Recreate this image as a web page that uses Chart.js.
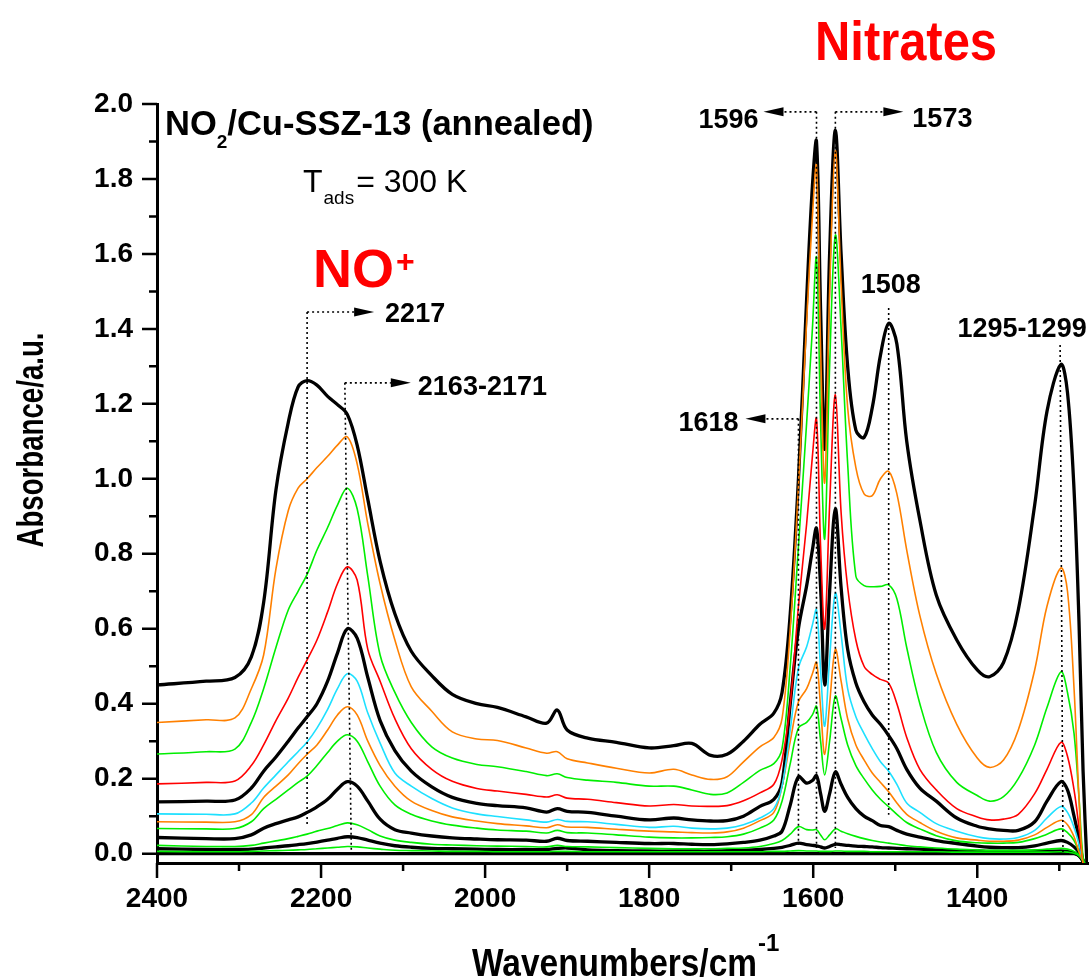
<!DOCTYPE html>
<html>
<head>
<meta charset="utf-8">
<script src="https://cdn.jsdelivr.net/npm/chart.js@4.4.1/dist/chart.umd.min.js"></script>
<style>
  html, body { margin: 0; padding: 0; background: #fff; }
</style>
</head>
<body>
<canvas id="graficoNO2" width="1089" height="979"></canvas>
<script>
// eixo x comum (cm-1)
var wavenumbers = [2400, 2340, 2305, 2285, 2270, 2255, 2240, 2228, 2217, 2205, 2192, 2180, 2168, 2156, 2143, 2128, 2110, 2090, 2065, 2040,
  2010, 1985, 1950, 1925, 1912, 1900, 1875, 1840, 1800, 1770, 1748, 1725, 1705, 1685, 1665, 1648, 1638, 1628, 1618, 1608,
  1601, 1596, 1591, 1586, 1580, 1573, 1566, 1558, 1548, 1538, 1528, 1518, 1508, 1498, 1486, 1470, 1450, 1425, 1400, 1385,
  1368, 1350, 1330, 1315, 1298, 1290, 1282, 1276, 1271, 1266];

// espectros, do mais alto para o mais baixo
var absBlack1 = [0.450, 0.460, 0.470, 0.525, 0.670, 0.970, 1.150, 1.245, 1.262, 1.250, 1.220, 1.198, 1.172, 1.090, 0.945, 0.780, 0.640, 0.540, 0.475, 0.425,
  0.400, 0.390, 0.365, 0.348, 0.383, 0.330, 0.308, 0.297, 0.282, 0.288, 0.294, 0.262, 0.265, 0.300, 0.345, 0.375, 0.430, 0.640, 1.000, 1.480,
  1.780, 1.900, 1.450, 1.080, 1.600, 1.930, 1.600, 1.300, 1.130, 1.110, 1.190, 1.330, 1.415, 1.360, 1.100, 0.890, 0.690, 0.570, 0.490, 0.472,
  0.510, 0.650, 0.930, 1.180, 1.305, 1.230, 0.970, 0.620, 0.220, -0.040];
var absOrange1 = [0.350, 0.357, 0.362, 0.440, 0.530, 0.760, 0.915, 0.975, 1.000, 1.030, 1.060, 1.090, 1.112, 1.040, 0.880, 0.720, 0.570, 0.445, 0.380, 0.325,
  0.306, 0.302, 0.282, 0.268, 0.272, 0.253, 0.242, 0.228, 0.215, 0.225, 0.210, 0.198, 0.205, 0.245, 0.285, 0.310, 0.360, 0.600, 0.980, 1.420,
  1.700, 1.835, 1.350, 0.990, 1.500, 1.875, 1.520, 1.190, 1.030, 0.960, 0.955, 1.000, 1.020, 0.960, 0.810, 0.635, 0.480, 0.345, 0.255, 0.230,
  0.250, 0.330, 0.490, 0.660, 0.762, 0.700, 0.440, 0.150, -0.030, -0.040];
var absGreen1 = [0.266, 0.272, 0.279, 0.350, 0.440, 0.550, 0.650, 0.700, 0.745, 0.810, 0.870, 0.930, 0.975, 0.920, 0.740, 0.530, 0.430, 0.350, 0.285, 0.255,
  0.238, 0.232, 0.219, 0.208, 0.213, 0.203, 0.196, 0.190, 0.180, 0.180, 0.170, 0.158, 0.162, 0.190, 0.222, 0.240, 0.280, 0.500, 0.820, 1.150,
  1.400, 1.590, 1.150, 0.840, 1.300, 1.650, 1.400, 1.040, 0.740, 0.715, 0.712, 0.713, 0.717, 0.680, 0.550, 0.400, 0.270, 0.190, 0.155, 0.140,
  0.152, 0.200, 0.290, 0.390, 0.485, 0.430, 0.320, 0.150, -0.010, -0.040];
var absRed = [0.186, 0.190, 0.194, 0.235, 0.290, 0.355, 0.415, 0.470, 0.517, 0.570, 0.645, 0.720, 0.765, 0.730, 0.545, 0.460, 0.360, 0.280, 0.225, 0.193,
  0.174, 0.167, 0.158, 0.151, 0.157, 0.148, 0.145, 0.136, 0.127, 0.131, 0.127, 0.126, 0.128, 0.141, 0.162, 0.185, 0.250, 0.400, 0.660, 0.880,
  1.060, 1.160, 0.820, 0.600, 0.930, 1.224, 0.910, 0.710, 0.570, 0.500, 0.478, 0.465, 0.455, 0.400, 0.310, 0.225, 0.170, 0.120, 0.098, 0.090,
  0.092, 0.105, 0.160, 0.225, 0.297, 0.260, 0.170, 0.070, -0.020, -0.040];
var absBlack2 = [0.138, 0.140, 0.143, 0.175, 0.220, 0.258, 0.300, 0.335, 0.365, 0.400, 0.460, 0.535, 0.600, 0.575, 0.470, 0.355, 0.275, 0.220, 0.178, 0.150,
  0.134, 0.128, 0.122, 0.111, 0.120, 0.113, 0.110, 0.100, 0.090, 0.095, 0.090, 0.087, 0.088, 0.100, 0.126, 0.145, 0.190, 0.400, 0.600, 0.715,
  0.810, 0.868, 0.710, 0.450, 0.700, 0.920, 0.710, 0.545, 0.455, 0.405, 0.370, 0.345, 0.315, 0.280, 0.225, 0.175, 0.140, 0.095, 0.073, 0.066,
  0.062, 0.062, 0.085, 0.140, 0.192, 0.170, 0.100, 0.040, -0.020, -0.040];
var absCyan = [0.106, 0.105, 0.106, 0.135, 0.175, 0.210, 0.245, 0.272, 0.298, 0.335, 0.385, 0.440, 0.480, 0.460, 0.375, 0.295, 0.215, 0.180, 0.147, 0.122,
  0.106, 0.099, 0.090, 0.084, 0.091, 0.086, 0.085, 0.078, 0.070, 0.073, 0.068, 0.066, 0.068, 0.077, 0.095, 0.120, 0.180, 0.330, 0.495, 0.552,
  0.610, 0.651, 0.490, 0.340, 0.520, 0.695, 0.585, 0.440, 0.365, 0.320, 0.280, 0.245, 0.220, 0.185, 0.135, 0.110, 0.080, 0.060, 0.045, 0.040,
  0.039, 0.043, 0.062, 0.095, 0.126, 0.110, 0.070, 0.025, -0.020, -0.040];
var absOrange2 = [0.085, 0.084, 0.085, 0.104, 0.150, 0.180, 0.210, 0.240, 0.265, 0.290, 0.330, 0.370, 0.392, 0.370, 0.300, 0.235, 0.180, 0.140, 0.115, 0.098,
  0.087, 0.080, 0.074, 0.069, 0.077, 0.071, 0.070, 0.065, 0.060, 0.058, 0.056, 0.055, 0.058, 0.068, 0.088, 0.110, 0.180, 0.300, 0.405, 0.440,
  0.480, 0.510, 0.390, 0.265, 0.400, 0.545, 0.460, 0.360, 0.290, 0.250, 0.215, 0.190, 0.165, 0.135, 0.105, 0.083, 0.060, 0.042, 0.036, 0.033,
  0.033, 0.036, 0.050, 0.070, 0.089, 0.077, 0.045, 0.005, -0.020, -0.040];
var absGreen2 = [0.067, 0.066, 0.067, 0.085, 0.120, 0.145, 0.170, 0.190, 0.207, 0.235, 0.270, 0.300, 0.317, 0.300, 0.245, 0.180, 0.130, 0.105, 0.087, 0.076,
  0.068, 0.063, 0.060, 0.055, 0.062, 0.056, 0.055, 0.050, 0.044, 0.042, 0.042, 0.043, 0.045, 0.052, 0.068, 0.090, 0.140, 0.240, 0.335, 0.350,
  0.370, 0.393, 0.300, 0.210, 0.300, 0.420, 0.360, 0.290, 0.235, 0.200, 0.170, 0.145, 0.125, 0.105, 0.083, 0.066, 0.048, 0.034, 0.029, 0.028,
  0.028, 0.030, 0.040, 0.052, 0.066, 0.056, 0.035, 0.005, -0.020, -0.040];
var absBlack3 = [0.043, 0.040, 0.040, 0.050, 0.068, 0.080, 0.090, 0.098, 0.110, 0.125, 0.145, 0.172, 0.192, 0.180, 0.140, 0.092, 0.064, 0.055, 0.047, 0.042,
  0.039, 0.037, 0.036, 0.033, 0.041, 0.035, 0.033, 0.030, 0.027, 0.027, 0.025, 0.024, 0.026, 0.030, 0.036, 0.047, 0.060, 0.130, 0.205, 0.188,
  0.195, 0.208, 0.160, 0.113, 0.160, 0.218, 0.185, 0.150, 0.120, 0.100, 0.088, 0.075, 0.072, 0.062, 0.052, 0.044, 0.035, 0.027, 0.020, 0.017,
  0.016, 0.016, 0.021, 0.028, 0.035, 0.030, 0.018, 0.003, -0.018, -0.040];
var absGreen3 = [0.022, 0.019, 0.019, 0.022, 0.028, 0.034, 0.040, 0.046, 0.052, 0.060, 0.067, 0.075, 0.082, 0.077, 0.064, 0.047, 0.036, 0.030, 0.025, 0.023,
  0.021, 0.020, 0.019, 0.018, 0.022, 0.019, 0.018, 0.016, 0.014, 0.013, 0.013, 0.013, 0.014, 0.015, 0.019, 0.027, 0.035, 0.052, 0.072, 0.064,
  0.063, 0.064, 0.050, 0.037, 0.050, 0.066, 0.060, 0.053, 0.046, 0.040, 0.035, 0.031, 0.028, 0.025, 0.021, 0.018, 0.015, 0.012, 0.010, 0.009,
  0.009, 0.009, 0.010, 0.012, 0.014, 0.012, 0.006, -0.003, -0.018, -0.040];
var absBlack4 = [0.013, 0.011, 0.011, 0.012, 0.015, 0.018, 0.021, 0.024, 0.027, 0.031, 0.036, 0.041, 0.045, 0.043, 0.036, 0.028, 0.021, 0.017, 0.014, 0.013,
  0.012, 0.011, 0.011, 0.011, 0.014, 0.015, 0.010, 0.008, 0.007, 0.007, 0.007, 0.007, 0.008, 0.009, 0.011, 0.014, 0.017, 0.022, 0.028, 0.024,
  0.022, 0.021, 0.018, 0.015, 0.019, 0.025, 0.024, 0.022, 0.020, 0.019, 0.018, 0.016, 0.015, 0.014, 0.013, 0.012, 0.010, 0.008, 0.007, 0.006,
  0.006, 0.006, 0.006, 0.006, 0.007, 0.006, 0.002, -0.006, -0.020, -0.040];
var absGreen4 = [0.006, 0.005, 0.005, 0.006, 0.007, 0.008, 0.009, 0.010, 0.011, 0.013, 0.015, 0.017, 0.019, 0.018, 0.015, 0.012, 0.009, 0.008, 0.007, 0.006,
  0.006, 0.005, 0.005, 0.005, 0.006, 0.006, 0.005, 0.005, 0.005, 0.005, 0.005, 0.005, 0.005, 0.005, 0.005, 0.006, 0.006, 0.007, 0.008, 0.007,
  0.007, 0.007, 0.006, 0.006, 0.006, 0.007, 0.007, 0.006, 0.006, 0.006, 0.005, 0.005, 0.005, 0.005, 0.005, 0.005, 0.005, 0.004, 0.004, 0.004,
  0.004, 0.004, 0.004, 0.004, 0.005, 0.004, 0.001, -0.006, -0.020, -0.040];
var absZero = [0, 0, 0, 0, 0, 0, 0, 0, 0, 0, 0, 0, 0, 0, 0, 0, 0, 0, 0, 0,
  0, 0, 0, 0, 0, 0, 0, 0, 0, 0, 0, 0, 0, 0, 0, 0, 0, 0, 0, 0,
  0, 0, 0, 0, 0, 0, 0, 0, 0, 0, 0, 0, 0, 0, 0, 0, 0, 0, 0, 0,
  0, 0, 0, 0, 0, 0, 0, -0.005, -0.020, -0.040];

var yTicks = [0.0, 0.2, 0.4, 0.6, 0.8, 1.0, 1.2, 1.4, 1.6, 1.8, 2.0];
var yMinorTicks = [0.1, 0.3, 0.5, 0.7, 0.9, 1.1, 1.3, 1.5, 1.7, 1.9];
var xTicks = [2400, 2200, 2000, 1800, 1600, 1400];
var xMinorTicks = [2300, 2100, 1900, 1700, 1500, 1300];

var FONTE = "'Liberation Sans', Arial, sans-serif";
var PRETO = '#000000', LARANJA = '#FF8000', VERDE = '#00EE00', VERMELHO = '#FF0000', CIANO = '#1EE0FF';

var curvas = [
  { dados: absBlack1, cor: PRETO }, { dados: absOrange1, cor: LARANJA }, { dados: absGreen1, cor: VERDE },
  { dados: absRed, cor: VERMELHO }, { dados: absBlack2, cor: PRETO }, { dados: absCyan, cor: CIANO },
  { dados: absOrange2, cor: LARANJA }, { dados: absGreen2, cor: VERDE }, { dados: absBlack3, cor: PRETO },
  { dados: absGreen3, cor: VERDE }, { dados: absBlack4, cor: PRETO }, { dados: absGreen4, cor: VERDE },
  { dados: absZero, cor: PRETO }
];

// marcacoes pontilhadas com setas
var marcacoes = [
  { texto: '2217', x1: 2217, y1: 1.445, x2: 2217, y2: 0.072, seta: 1, haste: 47, dx: 11, dy: 10 },
  { texto: '2163-2171', x1: 2171, y1: 1.256, x2: 2163, y2: -0.008, seta: 1, haste: 46, dx: 7, dy: 12 },
  { texto: '1618', x1: 1618, y1: 1.160, x2: 1618, y2: 0.024, seta: -1, haste: 33, dx: 7, dy: 12 },
  { texto: '1596', x1: 1596, y1: 1.979, x2: 1596, y2: 0.015, seta: -1, haste: 33, dx: 5, dy: 16 },
  { texto: '1573', x1: 1573, y1: 1.979, x2: 1573, y2: 0.015, seta: 1, haste: 48, dx: 9, dy: 15 },
  { texto: '1508', x1: 1508, y1: 1.456, x2: 1508, y2: 0.104, seta: 0, dx: 2, dy: -15 },
  { texto: '1295-1299', x1: 1299, y1: 1.357, x2: 1295.5, y2: 0.003, seta: 0, dx: -38, dy: -8 }
];

function escreve(ctx, str, x, y, fonte, cor, alinha, largura) {
  ctx.save();
  ctx.font = fonte;
  ctx.fillStyle = cor;
  ctx.textAlign = 'left';
  ctx.textBaseline = 'alphabetic';
  var w = ctx.measureText(str).width;
  var sx = largura ? largura / w : 1;
  var x0 = alinha === 'right' ? x - w * sx : (alinha === 'center' ? x - w * sx / 2 : x);
  ctx.translate(x0, y);
  ctx.scale(sx, 1);
  ctx.fillText(str, 0, 0);
  ctx.restore();
  return x0 + w * sx;
}

var tracosEixos = {
  id: 'tracosEixos',
  afterDraw: function(chart) {
    var ctx = chart.ctx, xs = chart.scales.x, ys = chart.scales.y;
    var esq = chart.chartArea.left, base = chart.chartArea.bottom;
    ctx.save();
    ctx.strokeStyle = PRETO;
    ctx.lineWidth = 2.5;
    ctx.beginPath();
    yTicks.forEach(function(v) { var p = ys.getPixelForValue(v); ctx.moveTo(esq - 15, p); ctx.lineTo(esq, p); });
    yMinorTicks.forEach(function(v) { var p = ys.getPixelForValue(v); ctx.moveTo(esq - 8, p); ctx.lineTo(esq, p); });
    xTicks.forEach(function(v) { var p = xs.getPixelForValue(v); ctx.moveTo(p, base); ctx.lineTo(p, base + 15); });
    xMinorTicks.forEach(function(v) { var p = xs.getPixelForValue(v); ctx.moveTo(p, base); ctx.lineTo(p, base + 8); });
    ctx.stroke();
    ctx.restore();
  }
};

var anotacoes = {
  id: 'anotacoes',
  afterDraw: function(chart) {
    var ctx = chart.ctx, xs = chart.scales.x, ys = chart.scales.y;
    var fonteNum = 'bold 27px ' + FONTE;
    ctx.save();
    marcacoes.forEach(function(m) {
      var xa = xs.getPixelForValue(m.x1), ya = ys.getPixelForValue(m.y1);
      var xb = xs.getPixelForValue(m.x2), yb = ys.getPixelForValue(m.y2);
      ctx.strokeStyle = PRETO;
      ctx.lineWidth = 1.6;
      ctx.setLineDash([2, 3]);
      ctx.beginPath();
      ctx.moveTo(xa, ya); ctx.lineTo(xb, yb);
      if (m.seta) { ctx.moveTo(xa, ya); ctx.lineTo(xa + m.seta * m.haste, ya); }
      ctx.stroke();
      ctx.setLineDash([]);
      if (m.seta) {
        var b = xa + m.seta * m.haste, ponta = b + m.seta * 20;
        ctx.fillStyle = PRETO;
        ctx.beginPath();
        ctx.moveTo(b, ya - 4.5); ctx.lineTo(ponta, ya); ctx.lineTo(b, ya + 4.5);
        ctx.closePath(); ctx.fill();
        if (m.seta > 0) escreve(ctx, m.texto, ponta + m.dx, ya + m.dy, fonteNum, PRETO, 'left');
        else escreve(ctx, m.texto, ponta - m.dx, ya + m.dy, fonteNum, PRETO, 'right');
      } else {
        escreve(ctx, m.texto, xa + m.dx, ya + m.dy, fonteNum, PRETO, 'center');
      }
    });

    // titulos e rotulos
    var x = escreve(ctx, 'NO', 165, 135, 'bold 34.5px ' + FONTE, PRETO, 'left');
    x = escreve(ctx, '2', x, 148, 'bold 19px ' + FONTE, PRETO, 'left');
    escreve(ctx, '/Cu-SSZ-13 (annealed)', x, 135, 'bold 34.5px ' + FONTE, PRETO, 'left');

    x = escreve(ctx, 'T', 303, 192, '32px ' + FONTE, PRETO, 'left');
    x = escreve(ctx, 'ads', x + 1, 204, '19px ' + FONTE, PRETO, 'left');
    escreve(ctx, '= 300 K', x + 2, 192, '32px ' + FONTE, PRETO, 'left');

    x = escreve(ctx, 'NO', 313, 287, 'bold 54px ' + FONTE, VERMELHO, 'left');
    escreve(ctx, '+', x + 2, 272, 'bold 32px ' + FONTE, VERMELHO, 'left');

    escreve(ctx, 'Nitrates', 815, 60, 'bold 56px ' + FONTE, VERMELHO, 'left', 182);

    x = escreve(ctx, 'Wavenumbers/cm', 472, 976, 'bold 38px ' + FONTE, PRETO, 'left', 285);
    escreve(ctx, '-1', x + 1, 951, 'bold 24px ' + FONTE, PRETO, 'left');

    ctx.save();
    ctx.translate(43, 440);
    ctx.rotate(-Math.PI / 2);
    escreve(ctx, 'Absorbance/a.u.', 0, 0, 'bold 37px ' + FONTE, PRETO, 'center', 215);
    ctx.restore();
    ctx.restore();
  }
};

var datasets = curvas.map(function(c) {
  var preto = c.cor === PRETO;
  return {
    data: wavenumbers.map(function(w, i) { return { x: w, y: c.dados[i] }; }),
    borderColor: c.cor,
    borderWidth: preto ? 3.3 : 1.6,
    pointRadius: 0,
    fill: false,
    tension: 0.35,
    order: preto ? 2 : 1
  };
});

var fonteTicks = { family: FONTE, size: 28, weight: 'bold' };

new Chart(document.getElementById('graficoNO2').getContext('2d'), {
  type: 'line',
  data: { datasets: datasets },
  options: {
    responsive: false,
    animation: false,
    devicePixelRatio: 1,
    layout: { padding: { top: 104, right: 1, left: 0, bottom: 0 } },
    plugins: { legend: { display: false }, tooltip: { enabled: false }, title: { display: false } },
    scales: {
      x: {
        type: 'linear', reverse: true, min: 1265, max: 2400,
        afterBuildTicks: function(s) { s.ticks = xTicks.map(function(v) { return { value: v }; }); },
        afterFit: function(s) { s.height = 116; },
        grid: { display: false, drawTicks: false, tickLength: 0 },
        border: { display: true, color: PRETO, width: 3 },
        ticks: { color: PRETO, font: fonteTicks, padding: 19, maxRotation: 0, autoSkip: false,
                 callback: function(v) { return String(v); } }
      },
      y: {
        type: 'linear', min: -0.025, max: 2.0,
        afterBuildTicks: function(s) { s.ticks = yTicks.map(function(v) { return { value: v }; }); },
        afterFit: function(s) { s.width = 157; },
        grid: { display: false, drawTicks: false, tickLength: 0 },
        border: { display: true, color: PRETO, width: 3 },
        ticks: { color: PRETO, font: fonteTicks, padding: 24, autoSkip: false,
                 callback: function(v) { return v.toFixed(1); } }
      }
    }
  },
  plugins: [tracosEixos, anotacoes]
});
</script>
</body>
</html>
